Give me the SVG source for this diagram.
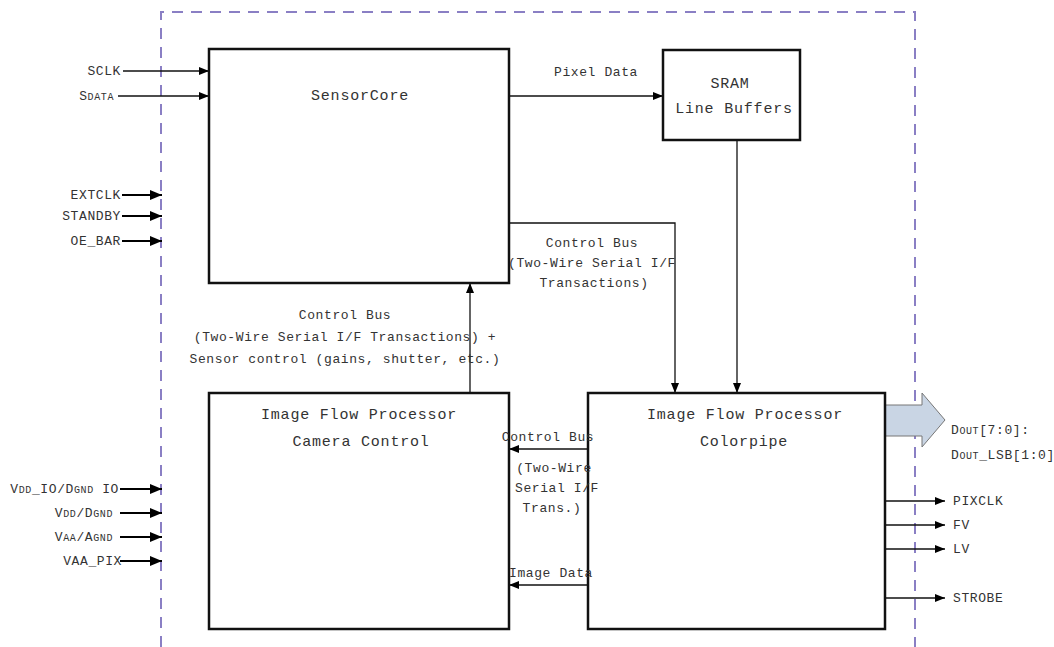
<svg xmlns="http://www.w3.org/2000/svg" width="1054" height="647" viewBox="0 0 1054 647">
<defs>
<marker id="ah" viewBox="0 0 10 8" refX="10" refY="4" markerWidth="10" markerHeight="8" markerUnits="userSpaceOnUse" orient="auto">
<path d="M0,0 L10,4 L0,8 z" fill="#000"/>
</marker>
<marker id="ahb" viewBox="0 0 12 10" refX="12" refY="5" markerWidth="12" markerHeight="10" markerUnits="userSpaceOnUse" orient="auto">
<path d="M0,0 L12,5 L0,10 z" fill="#000"/>
</marker>
</defs>
<style>
.box{fill:#fff;stroke:#111;stroke-width:2.5}
.ln{stroke:#111;stroke-width:1.3;fill:none;marker-end:url(#ah)}
.lnb{stroke:#000;stroke-width:2.2;fill:none;marker-end:url(#ahb)}
.t{font-family:"Liberation Mono",monospace;font-size:13px;fill:#333;letter-spacing:0.6px}
.tl{font-family:"Liberation Mono",monospace;font-size:15px;fill:#333;letter-spacing:0.8px}
.sm{font-size:10px}
.dash{stroke:#8a7fc4;stroke-width:2;fill:none;stroke-dasharray:11 8}
</style>
<rect width="1054" height="647" fill="#fff"/>
<g id="boundary">
<path class="dash" d="M161,647 L161,12 L915,12 L915,647"/>
</g>
<g id="connectors">
<line class="ln" x1="123" y1="71" x2="209" y2="71"/>
<line class="ln" x1="118" y1="96" x2="209" y2="96"/>
<line class="lnb" x1="122" y1="195" x2="162" y2="195"/>
<line class="lnb" x1="122" y1="216" x2="162" y2="216"/>
<line class="lnb" x1="122" y1="241" x2="162" y2="241"/>
<line class="lnb" x1="120" y1="489" x2="162" y2="489"/>
<line class="lnb" x1="120" y1="513" x2="162" y2="513"/>
<line class="lnb" x1="120" y1="537" x2="162" y2="537"/>
<line class="lnb" x1="120" y1="561" x2="162" y2="561"/>
<line class="ln" x1="509" y1="96" x2="663" y2="96"/>
<line class="ln" x1="737" y1="140" x2="737" y2="393"/>
<polyline class="ln" points="509,223 675,223 675,393"/>
<line class="ln" x1="470" y1="393" x2="470" y2="283"/>
<line class="ln" x1="588" y1="449" x2="509" y2="449"/>
<line class="ln" x1="588" y1="585" x2="509" y2="585"/>
<line class="ln" x1="885" y1="501" x2="945" y2="501"/>
<line class="ln" x1="885" y1="525" x2="945" y2="525"/>
<line class="ln" x1="885" y1="549" x2="945" y2="549"/>
<line class="ln" x1="885" y1="598" x2="945" y2="598"/>
<path d="M885,405 L922,405 L922,393 L945,420 L922,447 L922,436 L885,436 Z" fill="#c9d5e4" stroke="#777" stroke-width="1"/>
</g>
<g id="sensorcore">
<rect class="box" x="209" y="49" width="300" height="234"/>
<text class="tl" x="360" y="100" text-anchor="middle">SensorCore</text>
</g>
<g id="sram">
<rect class="box" x="663" y="50" width="137" height="90"/>
<text class="tl" x="730" y="88" text-anchor="middle">SRAM</text>
<text class="tl" x="734" y="113" text-anchor="middle">Line Buffers</text>
</g>
<g id="camera-control">
<rect class="box" x="209" y="393" width="300" height="236"/>
<text class="tl" x="359" y="419" text-anchor="middle">Image Flow Processor</text>
<text class="tl" x="361" y="446" text-anchor="middle">Camera Control</text>
</g>
<g id="colorpipe">
<rect class="box" x="588" y="393" width="297" height="236"/>
<text class="tl" x="745" y="419" text-anchor="middle">Image Flow Processor</text>
<text class="tl" x="744" y="446" text-anchor="middle">Colorpipe</text>
</g>
<g id="labels">
<text class="t" x="121" y="75" text-anchor="end">SCLK</text>
<text class="t" x="114" y="100" text-anchor="end">S<tspan class="sm">DATA</tspan></text>
<text class="t" x="121" y="199" text-anchor="end">EXTCLK</text>
<text class="t" x="121" y="220" text-anchor="end">STANDBY</text>
<text class="t" x="121" y="245" text-anchor="end">OE_BAR</text>
<text class="t" x="119" y="493" text-anchor="end">V<tspan class="sm">DD</tspan>_IO/D<tspan class="sm">GND</tspan> IO</text>
<text class="t" x="113" y="517" text-anchor="end">V<tspan class="sm">DD</tspan>/D<tspan class="sm">GND</tspan></text>
<text class="t" x="113" y="541" text-anchor="end">V<tspan class="sm">AA</tspan>/A<tspan class="sm">GND</tspan></text>
<text class="t" x="122" y="565" text-anchor="end">VAA_PIX</text>
<text class="t" x="596" y="76" text-anchor="middle">Pixel Data</text>
<text class="t" x="592" y="247" text-anchor="middle">Control Bus</text>
<text class="t" x="592" y="267" text-anchor="middle">(Two-Wire Serial I/F</text>
<text class="t" x="594" y="287" text-anchor="middle">Transactions)</text>
<text class="t" x="345" y="319" text-anchor="middle">Control Bus</text>
<text class="t" x="345" y="341" text-anchor="middle">(Two-Wire Serial I/F Transactions) +</text>
<text class="t" x="345" y="363" text-anchor="middle">Sensor control (gains, shutter, etc.)</text>
<text class="t" x="548" y="441" text-anchor="middle">Control Bus</text>
<text class="t" x="554" y="472" text-anchor="middle">(Two-Wire</text>
<text class="t" x="557" y="492" text-anchor="middle">Serial I/F</text>
<text class="t" x="552" y="512" text-anchor="middle">Trans.)</text>
<text class="t" x="551" y="577" text-anchor="middle">Image Data</text>
<text class="t" x="951" y="434">D<tspan class="sm">OUT</tspan>[7:0]:</text>
<text class="t" x="951" y="459">D<tspan class="sm">OUT</tspan>_LSB[1:0]</text>
<text class="t" x="953" y="505">PIXCLK</text>
<text class="t" x="953" y="529">FV</text>
<text class="t" x="953" y="553">LV</text>
<text class="t" x="953" y="602">STROBE</text>
</g>
</svg>
